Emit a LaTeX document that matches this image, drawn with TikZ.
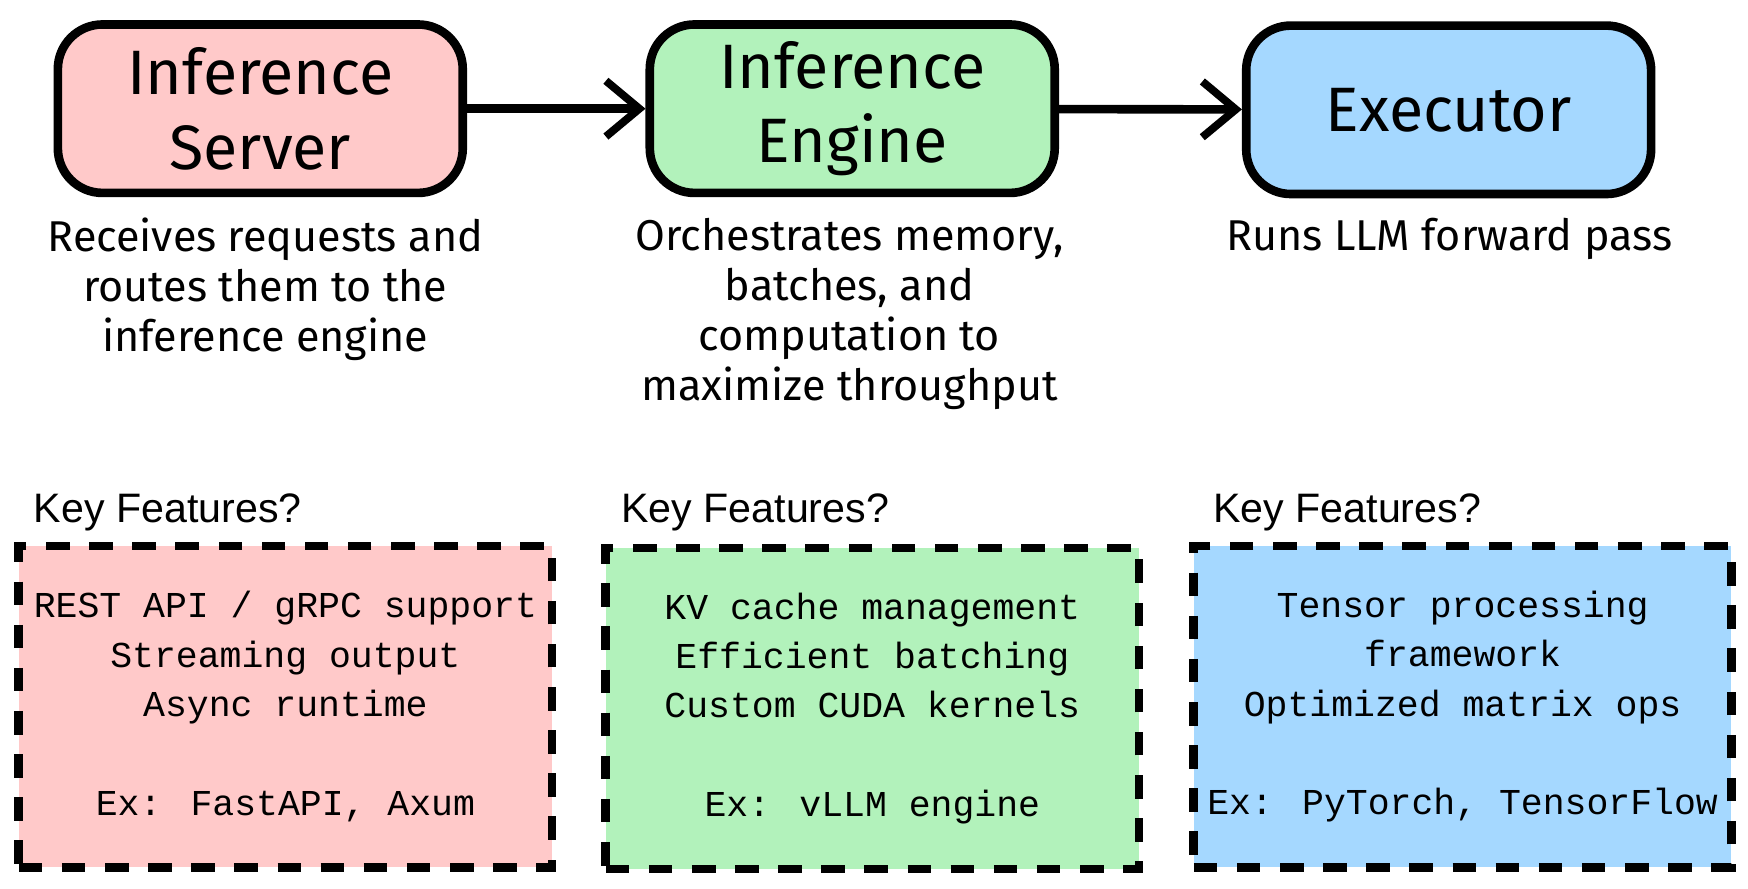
\documentclass[tikz,border=0pt]{standalone}
\usepackage{fontspec}
\setmainfont{Liberation Sans}
\newfontfamily\monofont{Liberation Mono}
\newfontfamily\handfont{Fira Sans}
\usetikzlibrary{positioning, arrows.meta}
\definecolor{serverpink}{HTML}{FFC9C9}
\definecolor{enginegreen}{HTML}{B2F2BB}
\definecolor{execblue}{HTML}{A5D8FF}

\begin{document}
\begin{tikzpicture}[
		x=0.01cm, y=-0.01cm,
		>={Straight Barb[length=3mm, width=5mm, line width=2pt]},
		stage/.style={draw, line width=2.2pt, rounded corners=4mm, minimum width=36.3mm, minimum height=15.1mm, align=center, font=\handfont\fontsize{16}{19}\selectfont},
		desc/.style={align=center, font=\handfont\fontsize{11}{12.8}\selectfont},
		keys/.style={anchor=west, font=\fontsize{10.5}{13}\selectfont},
		feat/.style={draw, line width=2.2pt, dash pattern=on 6pt off 5pt, inner sep=0pt, minimum width=47.8mm, minimum height=28.8mm, align=center, font=\monofont\fontsize{9.3}{12.6}\selectfont},
	]
	\useasboundingbox (0,0) rectangle (1568,797);
	\node[stage, fill=serverpink] (server) at (233.5,97.5) {Inference\\Server};
	\node[stage, fill=enginegreen] (engine) at (764.5,97.5) {Inference\\Engine};
	\node[stage, fill=execblue] (exec) at (1299.5,98.5) {Executor};

	\node[desc, anchor=north] (serverdesc) at (238,183) {Receives requests and\\routes them to the\\inference engine};
	\node[desc, anchor=north] (enginedesc) at (762,183) {Orchestrates memory,\\batches, and\\computation to\\maximize throughput};
	\node[desc, anchor=north] (execdesc) at (1300,183) {Runs LLM forward pass};

	\foreach \i/\j in {server/engine, engine/exec}
		\draw[->, line width=2.2pt] (\i) -- (\j);

	\node[keys] (serverkey) at (18,460) {Key Features?};
	\node[keys] (enginekey) at (545,460) {Key Features?};
	\node[keys] (execkey) at (1076,460) {Key Features?};

	\node[feat, fill=serverpink] (serverfeat) at (256,634) {REST API / gRPC support\\Streaming output\\Async runtime\\[\baselineskip]Ex: FastAPI, Axum};
	\node[feat, fill=enginegreen] (enginefeat) at (782.5,635.5) {KV cache management\\Efficient batching\\Custom CUDA kernels\\[\baselineskip]Ex: vLLM engine};
	\node[feat, fill=execblue, minimum width=48.2mm] (execfeat) at (1312,634) {Tensor processing\\framework\\Optimized matrix ops\\[\baselineskip]Ex: PyTorch, TensorFlow};
\end{tikzpicture}
\end{document}
